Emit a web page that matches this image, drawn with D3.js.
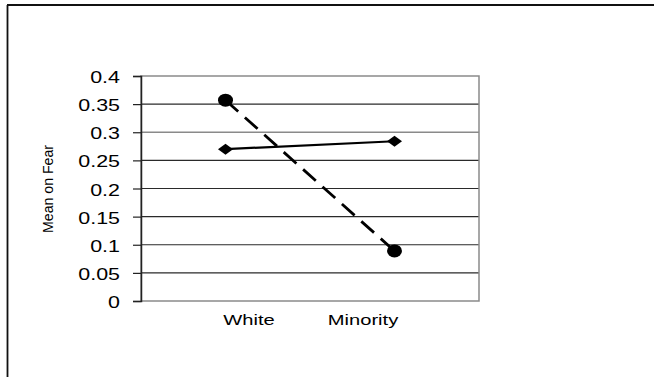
<!DOCTYPE html>
<html>
<head>
<meta charset="utf-8">
<script src="https://cdn.jsdelivr.net/npm/d3@7"></script>
<style>
  html, body { margin: 0; padding: 0; background: #fff; }
  svg { display: block; }
  text { font-family: "Liberation Sans", Arial, sans-serif; fill: #000; }
</style>
</head>
<body>
<svg id="chart" width="654" height="377"></svg>
<script>
// Group means of fear for each ethnicity
const categories = ["White", "Minority"];
const seriesCircle = [0.357, 0.089];   // dashed line, round markers
const seriesDiamond = [0.270, 0.284];  // solid line, diamond markers
const yTicks = [0, 0.05, 0.1, 0.15, 0.2, 0.25, 0.3, 0.35, 0.4];
const yTickLabels = ["0", "0.05", "0.1", "0.15", "0.2", "0.25", "0.3", "0.35", "0.4"];
const yTitle = "Mean on Fear";

const svg = d3.select("#chart");
const plot = { left: 141, right: 479, top: 76, bottom: 301 };
const stretch = 1.3; // horizontal widening of the lettering

const x = d3.scalePoint().domain(categories).range([plot.left, plot.right]).padding(0.5);
// category captions sit on their own, narrower spacing
const xLabel = d3.scalePoint().domain(categories).range([192, 420]).padding(0.5);
const y = d3.scaleLinear().domain([0, 0.4]).range([plot.bottom, plot.top]);

// outer frame (left and top edges)
svg.append("line").attr("x1", 7.5).attr("x2", 7.5).attr("y1", 5).attr("y2", 377)
  .attr("stroke", "#111").attr("stroke-width", 1.8);
svg.append("line").attr("x1", 7).attr("x2", 654).attr("y1", 5).attr("y2", 5)
  .attr("stroke", "#111").attr("stroke-width", 1.8);

// horizontal gridlines
svg.append("g").selectAll("line").data(yTicks.filter(d => d > 0 && d < 0.4)).join("line")
  .attr("x1", plot.left).attr("x2", plot.right)
  .attr("y1", d => y(d)).attr("y2", d => y(d))
  .attr("stroke", d => d === 0.3 ? "#8a8a8a" : "#2a2a2a")
  .attr("stroke-width", d => d === 0.3 ? 1.6 : 1.1);

// plot area border
svg.append("rect")
  .attr("x", plot.left).attr("y", plot.top)
  .attr("width", plot.right - plot.left).attr("height", plot.bottom - plot.top)
  .attr("fill", "none").attr("stroke", "#8a8a8a").attr("stroke-width", 1.5);

// y axis
const yAxis = d3.axisLeft(y).tickValues(yTicks)
  .tickFormat((d, i) => yTickLabels[i]).tickSize(8).tickPadding(0);
const gy = svg.append("g").attr("transform", `translate(${plot.left},0)`).call(yAxis);
gy.select(".domain").attr("stroke", "#222").attr("stroke-width", 1.5);
gy.selectAll(".tick line").attr("stroke", "#222").attr("stroke-width", 1.2);
gy.selectAll(".tick text")
  .attr("x", 0)
  .attr("dy", "0.4em")
  .attr("transform", `translate(-21,0) scale(${stretch},1)`)
  .style("font-size", "16.5px");

// x category captions
svg.append("g").selectAll("text").data(categories).join("text")
  .attr("transform", d => `translate(${xLabel(d)},325) scale(${stretch},1)`)
  .attr("text-anchor", "middle")
  .style("font-size", "15.5px")
  .text(d => d);

// y axis title
svg.append("text")
  .attr("transform", "translate(53,189) rotate(-90)")
  .attr("text-anchor", "middle")
  .style("font-size", "15px")
  .attr("textLength", 88)
  .attr("lengthAdjust", "spacingAndGlyphs")
  .text(yTitle);

// lines
const line = d3.line().x((d, i) => x(categories[i])).y(d => y(d));
svg.append("path").datum(seriesDiamond)
  .attr("d", line).attr("fill", "none")
  .attr("stroke", "#000").attr("stroke-width", 2.2);
svg.append("path").datum(seriesCircle)
  .attr("d", line).attr("fill", "none")
  .attr("stroke", "#000").attr("stroke-width", 2.8)
  .attr("stroke-dasharray", "17,9");

// markers
svg.append("g").selectAll("path").data(seriesDiamond).join("path")
  .attr("transform", (d, i) => `translate(${x(categories[i])},${y(d)})`)
  .attr("d", "M-7.5,0L0,-5.5L7.5,0L0,5.5Z")
  .attr("fill", "#000");
svg.append("g").selectAll("ellipse").data(seriesCircle).join("ellipse")
  .attr("cx", (d, i) => x(categories[i])).attr("cy", d => y(d))
  .attr("rx", 7.5).attr("ry", 6.5)
  .attr("fill", "#000");
</script>
</body>
</html>
